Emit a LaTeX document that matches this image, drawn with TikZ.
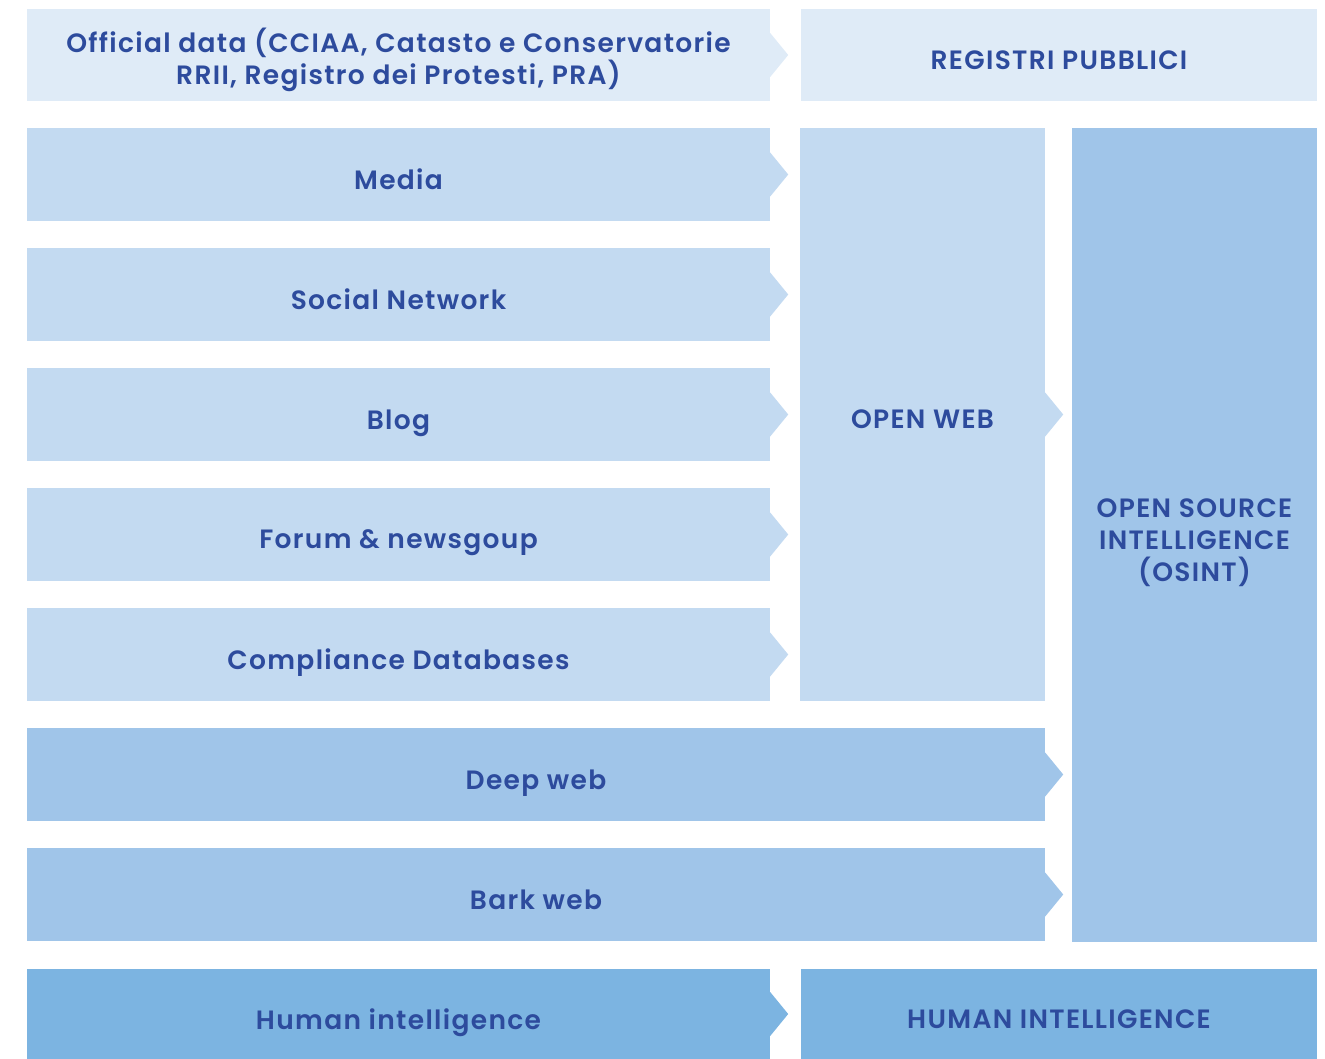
\documentclass[tikz,border=0pt]{standalone}
\usepackage{fontspec}
\setmainfont{Poppins}[UprightFont=* SemiBold, LetterSpace=5]
\definecolor{cA}{HTML}{DFEBF7}
\definecolor{cB}{HTML}{C3DAF1}
\definecolor{cC}{HTML}{A0C5E9}
\definecolor{cD}{HTML}{7CB4E1}
\definecolor{txt}{HTML}{2D4B9D}
\begin{document}
\begin{tikzpicture}[x=1pt,y=-1pt,
  box/.style n args={3}{rectangle, inner sep=0pt, fill=#1, minimum width=#2pt, minimum height=#3pt},
  lbl/.style={text=txt, align=center, inner sep=0pt, yshift=-5pt, font=\fontsize{26.5}{32}\selectfont},
  lbls/.style={lbl, text depth=0pt},
]
\useasboundingbox (0,0) rectangle (1325,1059);
\node[box={cA}{743}{92}, label={[lbl]center:{Official data (CCIAA, Catasto e Conservatorie\\RRII, Registro dei Protesti, PRA)}}] (off) at (398.5,55) {};
\node[box={cA}{516}{92}, label={[lbls]center:{REGISTRI PUBBLICI}}] (reg) at (1059,55) {};
\node[box={cB}{743}{93}, label={[lbls]center:{Media}}] (media) at (398.5,174.5) {};
\node[box={cB}{743}{93}, label={[lbls]center:{Social Network}}] (social) at (398.5,294.5) {};
\node[box={cB}{743}{93}, label={[lbls]center:{Blog}}] (blog) at (398.5,414.5) {};
\node[box={cB}{743}{93}, label={[lbls]center:{Forum \& newsgoup}}] (forum) at (398.5,534.5) {};
\node[box={cB}{743}{93}, label={[lbls]center:{Compliance Databases}}] (comp) at (398.5,654.5) {};
\node[box={cB}{245}{573}, label={[lbls]center:{OPEN WEB}}] (open) at (922.5,414.5) {};
\node[box={cC}{245}{814}, label={[lbl,yshift=-3pt]center:{OPEN SOURCE\\INTELLIGENCE\\(OSINT)}}] (osint) at (1194.5,535) {};
\node[box={cC}{1018}{93}, label={[lbls]center:{Deep web}}] (deep) at (536,774.5) {};
\node[box={cC}{1018}{93}, label={[lbls]center:{Bark web}}] (bark) at (536,894.5) {};
\node[box={cD}{743}{90}, label={[lbls]center:{Human intelligence}}] (human) at (398.5,1014) {};
\node[box={cD}{516}{90}, label={[lbls]center:{HUMAN INTELLIGENCE}}] (HUMAN) at (1059,1014) {};
\foreach \n/\c in {off/cA,media/cB,social/cB,blog/cB,forum/cB,comp/cB,open/cB,deep/cC,bark/cC,human/cD}{
  \fill[\c] ([yshift=22pt]\n.east) -- ([xshift=18pt]\n.east) -- ([yshift=-22pt]\n.east) -- cycle;
}
\end{tikzpicture}
\end{document}
